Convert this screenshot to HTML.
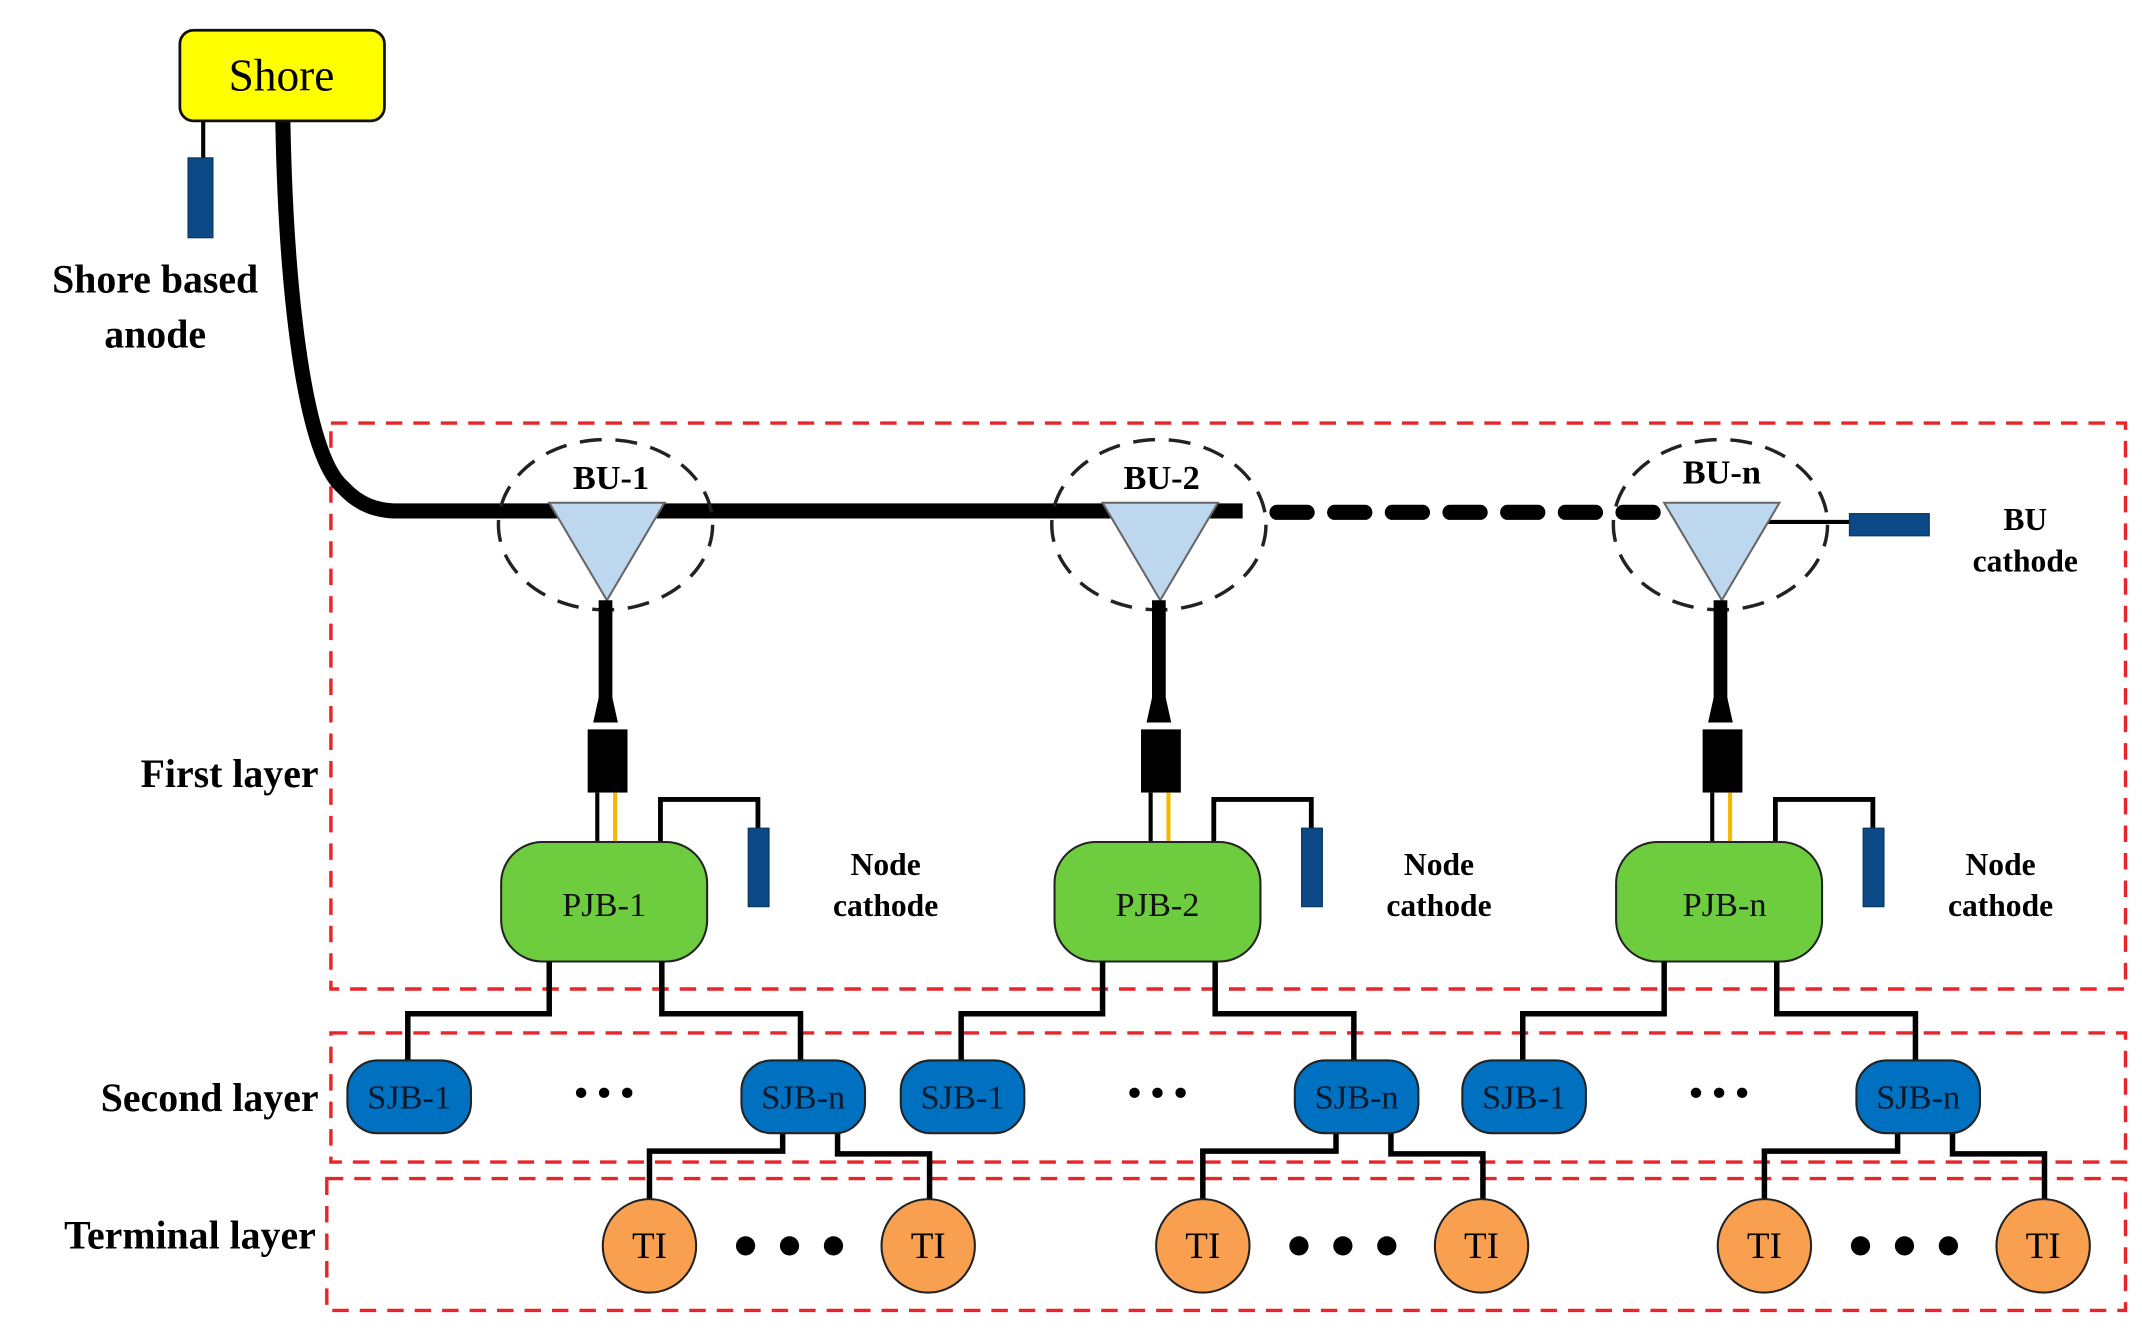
<!DOCTYPE html>
<html><head><meta charset="utf-8"><style>
html,body{margin:0;padding:0;background:#fff;}
svg{display:block;}
</style></head><body>
<svg width="2142" height="1342" viewBox="0 0 1560 977" preserveAspectRatio="none" xmlns="http://www.w3.org/2000/svg" font-family="'Liberation Serif', 'DejaVu Serif', serif">
<defs>
<g id="grp">
  <ellipse cx="441" cy="382" rx="78" ry="62" fill="none" stroke="#222" stroke-width="2.5" stroke-dasharray="16,10"/>
  <polygon points="400,366 484,366 442,437" fill="#bdd7ee" stroke="#666" stroke-width="1.5"/>
  <line x1="441" y1="437" x2="441" y2="510" stroke="#000" stroke-width="10"/>
  <path d="M432,526 L436,508 L446,508 L450,526 Z" fill="#000"/>
  <rect x="428" y="531" width="29" height="46" fill="#000"/>
  <line x1="435" y1="577" x2="435" y2="615" stroke="#000" stroke-width="3"/>
  <line x1="448" y1="577" x2="448" y2="615" stroke="#f5b800" stroke-width="3"/>
  <polyline points="481,615 481,582 552,582 552,603" fill="none" stroke="#000" stroke-width="3.5"/>
  <rect x="545" y="603" width="15" height="57" fill="#0b4a86" stroke="#0b3a66" stroke-width="1"/>
  <rect x="365" y="613" width="150" height="87" rx="30" fill="#6dcd3f" stroke="#222" stroke-width="1.5"/>
  <text x="645" y="637" font-size="23" font-weight="bold" text-anchor="middle">Node</text>
  <text x="645" y="667" font-size="23" font-weight="bold" text-anchor="middle">cathode</text>
  <polyline points="400,700 400,738 297,738 297,775" fill="none" stroke="#000" stroke-width="4"/>
  <polyline points="482,700 482,738 583,738 583,775" fill="none" stroke="#000" stroke-width="4"/>
  <polyline points="570,822 570,838 473,838 473,875" fill="none" stroke="#000" stroke-width="4"/>
  <polyline points="610,822 610,840 677,840 677,875" fill="none" stroke="#000" stroke-width="4"/>
  <rect x="253" y="772" width="90" height="53" rx="22" fill="#0070c0" stroke="#222" stroke-width="1.5"/>
  <rect x="540" y="772" width="90" height="53" rx="22" fill="#0070c0" stroke="#222" stroke-width="1.5"/>
  <text x="298" y="807" font-size="25" text-anchor="middle" fill="#0a1a2a">SJB-1</text>
  <text x="585" y="807" font-size="25" text-anchor="middle" fill="#0a1a2a">SJB-n</text>
  <text x="440" y="805" font-size="28" font-weight="bold" text-anchor="middle">• • •</text>
  <ellipse cx="473" cy="907" rx="34" ry="34" fill="#f9a050" stroke="#222" stroke-width="1.5"/>
  <ellipse cx="676" cy="907" rx="34" ry="34" fill="#f9a050" stroke="#222" stroke-width="1.5"/>
  <text x="473" y="916" font-size="27" text-anchor="middle">TI</text>
  <text x="676" y="916" font-size="27" text-anchor="middle">TI</text>
  <circle cx="543" cy="907" r="7" fill="#000"/>
  <circle cx="575" cy="907" r="7" fill="#000"/>
  <circle cx="607" cy="907" r="7" fill="#000"/>
</g>
</defs>

<g fill="none" stroke="#e8252a" stroke-width="2.5" stroke-dasharray="12,8">
  <rect x="241" y="308" width="1307" height="412"/>
  <rect x="241" y="752" width="1307" height="94"/>
  <rect x="238" y="858" width="1310" height="96"/>
</g>

<line x1="148" y1="88" x2="148" y2="116" stroke="#000" stroke-width="3"/>
<rect x="137" y="115" width="18" height="58" fill="#0b4a86" stroke="#0b3a66"/>
<path d="M206,88 C208,200 220,330 250,355 C262,368 275,372 290,372 L905,372" fill="none" stroke="#000" stroke-width="11"/>
<line x1="930" y1="373" x2="1210" y2="373" stroke="#000" stroke-width="11" stroke-linecap="round" stroke-dasharray="22,20"/>
<line x1="1253" y1="380" x2="1350" y2="380" stroke="#000" stroke-width="3"/>
<rect x="1347" y="374" width="58" height="16" fill="#0b4a86" stroke="#0b3a66"/>
<text x="1475" y="386" font-size="23" font-weight="bold" text-anchor="middle">BU</text>
<text x="1475" y="416" font-size="23" font-weight="bold" text-anchor="middle">cathode</text>
<rect x="131" y="22" width="149" height="66" rx="10" fill="#ffff00" stroke="#111" stroke-width="2"/>
<text x="205" y="66" font-size="33" text-anchor="middle">Shore</text>
<text x="113" y="213" font-size="29" font-weight="bold" text-anchor="middle">Shore based</text>
<text x="113" y="253" font-size="29" font-weight="bold" text-anchor="middle">anode</text>

<use href="#grp"/>
<use href="#grp" transform="translate(403,0)"/>
<use href="#grp" transform="translate(812,0)"/>

<g font-size="25" font-weight="bold" text-anchor="middle">
<text x="445" y="356">BU-1</text>
<text x="846" y="356">BU-2</text>
<text x="1254" y="352">BU-n</text>
</g>
<g font-size="25" text-anchor="middle" fill="#111">
<text x="440" y="667">PJB-1</text>
<text x="843" y="667">PJB-2</text>
<text x="1256" y="667">PJB-n</text>
</g>

<g font-size="29" font-weight="bold" text-anchor="end">
<text x="232" y="573">First layer</text>
<text x="232" y="809">Second layer</text>
<text x="230" y="909">Terminal layer</text>
</g>
</svg>
</body></html>
